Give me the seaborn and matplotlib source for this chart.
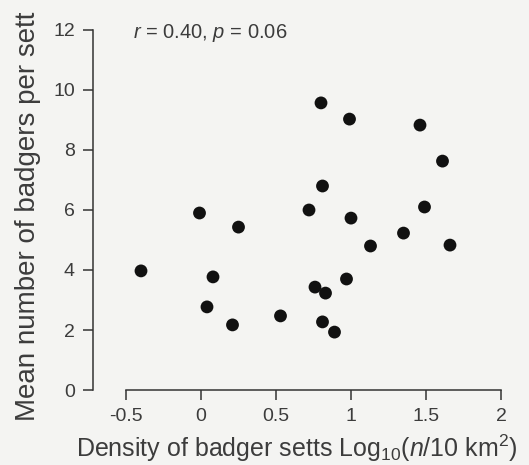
import matplotlib
matplotlib.use("Agg")
import matplotlib.pyplot as plt
import seaborn as sns
import pandas as pd

# Data
log_density = [-0.40, -0.01, 0.04, 0.08, 0.21, 0.25, 0.53, 0.72, 0.76, 0.80, 0.81,
               0.81, 0.83, 0.89, 0.97, 0.99, 1.00, 1.13, 1.35, 1.46, 1.49, 1.61, 1.66]
badgers_per_sett = [3.97, 5.90, 2.77, 3.77, 2.17, 5.43, 2.47, 6.00, 3.43, 9.57, 6.80,
                    2.27, 3.23, 1.93, 3.70, 9.03, 5.73, 4.80, 5.23, 8.83, 6.10, 7.63, 4.83]
x_ticks = [-0.5, 0, 0.5, 1, 1.5, 2]
x_tick_labels = ["-0.5", "0", "0.5", "1", "1.5", "2"]
y_ticks = [0, 2, 4, 6, 8, 10, 12]
annotation = "$r$ = 0.40, $p$ = 0.06"

df = pd.DataFrame({"x": log_density, "y": badgers_per_sett})

sns.set_theme(style="ticks")
bg = "#f4f4f2"
ink = "#333333"
txt = "#3c3c3c"
plt.rcParams["font.family"] = ["Liberation Sans", "DejaVu Sans"]
plt.rcParams["mathtext.fontset"] = "custom"
plt.rcParams["mathtext.rm"] = "Liberation Sans"
plt.rcParams["mathtext.it"] = "Liberation Sans:italic"

fig = plt.figure(figsize=(5.29, 4.65), dpi=100, facecolor=bg)
ax = fig.add_axes([93 / 529, 75 / 465, 415.5 / 529, 366 / 465])
ax.set_facecolor(bg)

sns.scatterplot(data=df, x="x", y="y", ax=ax, color="#111111", s=85,
                edgecolor="none", linewidth=0)

ax.set_xlim(-0.72, 2.05)
ax.set_ylim(0, 12.2)
ax.set_xticks(x_ticks)
ax.set_xticklabels(x_tick_labels)
ax.set_yticks(y_ticks)

for side in ["top", "right"]:
    ax.spines[side].set_visible(False)
ax.spines["left"].set_bounds(0, 12)
ax.spines["bottom"].set_bounds(-0.5, 2)
for side in ["left", "bottom"]:
    ax.spines[side].set_color(ink)
    ax.spines[side].set_linewidth(1.1)

ax.tick_params(axis="both", direction="out", length=7, width=1.1, color=ink,
               labelsize=14, labelcolor=txt)
ax.tick_params(axis="y", pad=6)
ax.tick_params(axis="x", pad=6)

ax.set_xlabel("Density of badger setts Log$_{10}$($n$/10 km$^2$)",
              fontsize=18, color=txt)
ax.set_ylabel("Mean number of badgers per sett", fontsize=20, color=txt)
ax.xaxis.label.set_va("baseline")
ax.yaxis.label.set_va("baseline")
ax.xaxis.set_label_coords(0.49, -0.182)
ax.yaxis.set_label_coords(-0.1396, 0.475)

ax.text(-0.455, 11.75, annotation, fontsize=14.5, color=txt, va="baseline",
        ha="left")

fig.savefig("out.png", dpi=100, facecolor=bg)
